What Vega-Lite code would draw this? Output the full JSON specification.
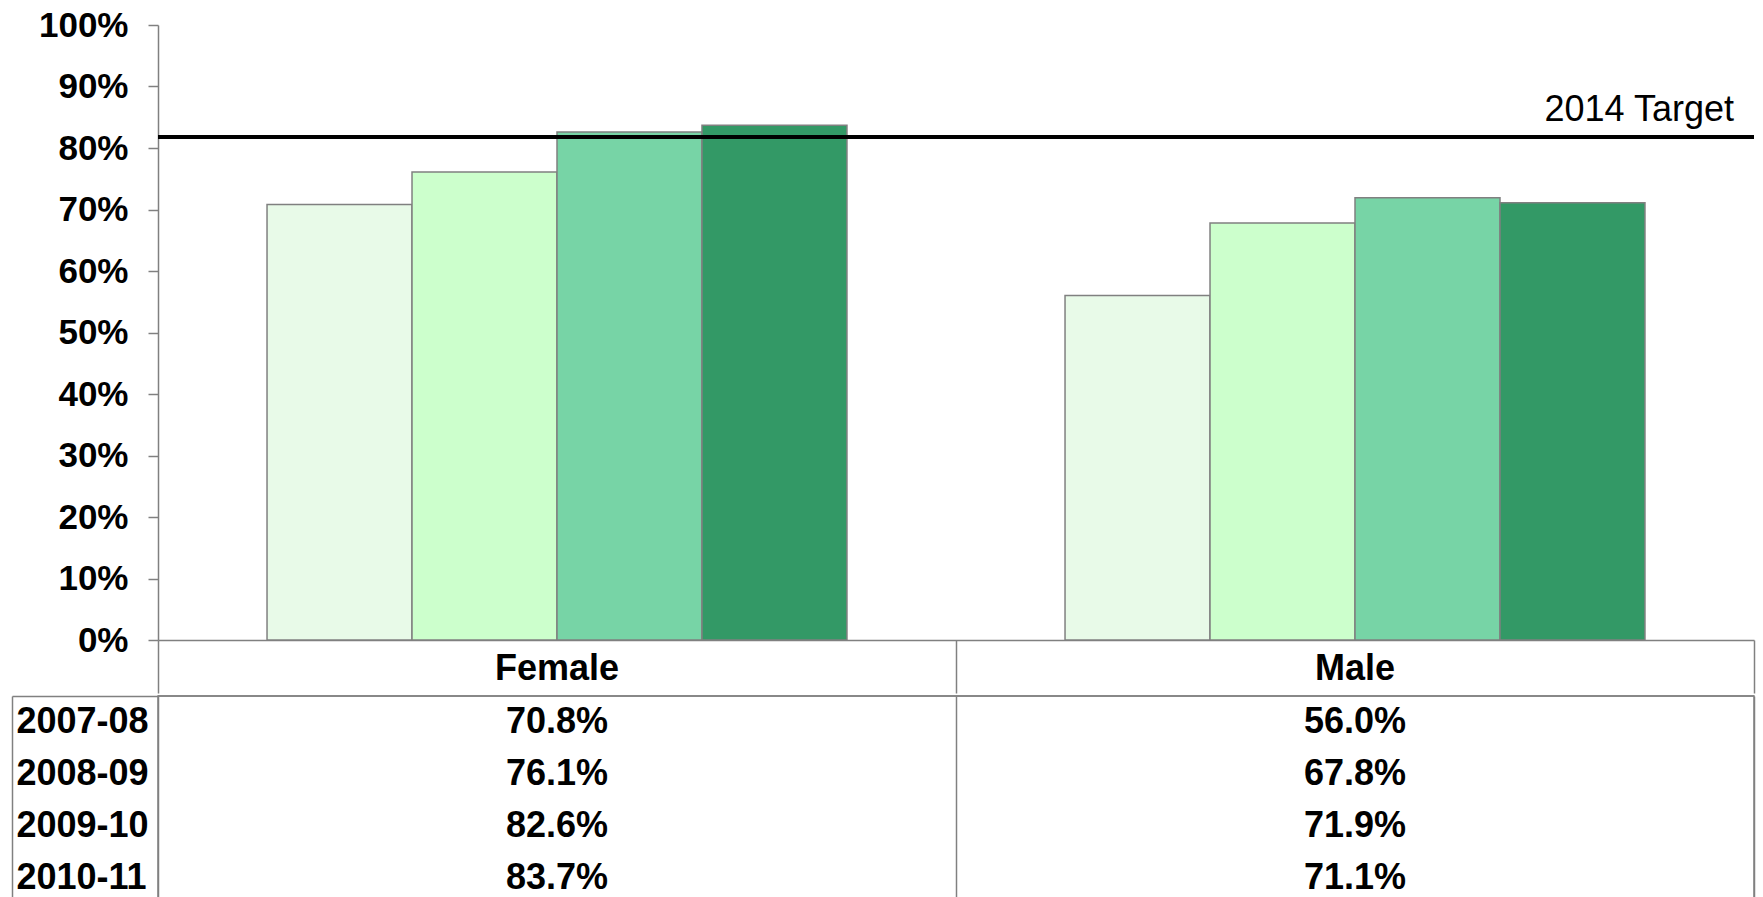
{
  "$schema": "https://vega.github.io/schema/vega-lite/v6.json",
  "padding": {"left": 10, "top": 8, "right": 0, "bottom": 0},
  "background": "white",
  "config": {"font": "Liberation Sans", "axis": {"title": null}},
  "datasets": {
    "rates": [
      {"sex": "Female", "year": "2007-08", "value": 0.708},
      {"sex": "Female", "year": "2008-09", "value": 0.761},
      {"sex": "Female", "year": "2009-10", "value": 0.826},
      {"sex": "Female", "year": "2010-11", "value": 0.837},
      {"sex": "Male", "year": "2007-08", "value": 0.560},
      {"sex": "Male", "year": "2008-09", "value": 0.678},
      {"sex": "Male", "year": "2009-10", "value": 0.719},
      {"sex": "Male", "year": "2010-11", "value": 0.711}
    ],
    "target": [{"label": "2014 Target", "value": 0.818}]
  },
  "spacing": 0,
  "vconcat": [
    {
      "width": 1596,
      "height": 615,
      "view": {"stroke": null},
      "layer": [
        {
          "data": {"name": "rates"},
          "mark": {"type": "bar", "stroke": "#808080", "strokeWidth": 1.5},
          "encoding": {
            "x": {
              "field": "sex", "type": "nominal", "sort": ["Female", "Male"],
              "scale": {"paddingInner": 0, "paddingOuter": 0},
              "axis": {
                "orient": "bottom", "bandPosition": 1, "tickExtra": true,
                "tickSize": 53, "tickColor": "#808080", "tickWidth": 1.5,
                "domainColor": "#808080", "domainWidth": 1.5,
                "labelAngle": 0, "labelFontSize": 36,
                "labelFontWeight": "bold", "labelColor": "black", "labelPadding": -42
              }
            },
            "xOffset": {"field": "year", "type": "nominal", "scale": {"paddingInner": 0, "paddingOuter": 0.752}},
            "y": {
              "field": "value", "type": "quantitative",
              "scale": {"domain": [0, 1]},
              "axis": {
                "values": [0, 0.1, 0.2, 0.3, 0.4, 0.5, 0.6, 0.7, 0.8, 0.9, 1],
                "format": ".0%", "grid": false, "tickSize": 10, "tickColor": "#808080", "tickWidth": 1.5,
                "domainColor": "#808080", "domainWidth": 1.5,
                "labelFontSize": 35, "labelFontWeight": "bold", "labelColor": "black", "labelPadding": 20
              }
            },
            "color": {
              "field": "year", "type": "nominal",
              "scale": {"domain": ["2007-08", "2008-09", "2009-10", "2010-11"], "range": ["#E8FAE8", "#CCFFCC", "#77D4A6", "#339966"]},
              "legend": null
            }
          }
        },
        {
          "data": {"name": "target"},
          "mark": {"type": "rule", "color": "black", "strokeWidth": 4},
          "encoding": {"y": {"field": "value", "type": "quantitative"}}
        },
        {
          "data": {"name": "target"},
          "mark": {"type": "text", "align": "right", "baseline": "alphabetic", "dx": -20, "dy": -16, "fontSize": 36, "color": "black"},
          "encoding": {
            "x": {"value": "width"},
            "y": {"field": "value", "type": "quantitative"},
            "text": {"field": "label"}
          }
        }
      ]
    },
    {
      "width": 1596,
      "height": 208,
      "view": {"stroke": "#808080", "strokeWidth": 1.5},
      "data": {"name": "rates"},
      "layer": [
        {
          "mark": {"type": "text", "fontSize": 36, "fontWeight": "bold", "color": "black"},
          "encoding": {
            "x": {
              "field": "sex", "type": "nominal", "sort": ["Female", "Male"],
              "scale": {"paddingInner": 0, "paddingOuter": 0},
              "axis": {"orient": "top", "grid": true, "tickBand": "extent", "gridColor": "#808080", "gridWidth": 1.5, "gridOpacity": 1, "ticks": false, "labels": false, "domain": false}
            },
            "y": {
              "field": "year", "type": "nominal",
              "scale": {"paddingInner": 0, "paddingOuter": 0},
              "axis": {
                "orient": "left", "offset": 146, "ticks": false, "domain": true,
                "domainColor": "#808080", "domainWidth": 1.5,
                "labelAlign": "left", "labelPadding": -4, "labelFontSize": 36,
                "labelFontWeight": "bold", "labelColor": "black"
              }
            },
            "text": {"field": "value", "type": "quantitative", "format": ".1%"}
          }
        },
        {
          "transform": [{"filter": "datum.year === '2007-08' && datum.sex === 'Female'"}],
          "mark": {"type": "rule", "color": "#808080", "strokeWidth": 1.5},
          "encoding": {
            "y": {
              "field": "year", "type": "nominal", "bandPosition": 0,
              "axis": {
                "orient": "left", "values": ["2007-08"], "bandPosition": 0,
                "labels": false, "domain": false, "ticks": true,
                "tickSize": 146, "tickColor": "#808080", "tickWidth": 1.5
              }
            }
          }
        }
      ],
      "resolve": {"axis": {"y": "independent"}}
    }
  ]
}
